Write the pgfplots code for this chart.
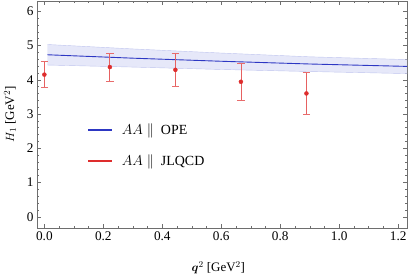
\documentclass[border=0pt]{standalone}
\usepackage{amsmath}
\usepackage{pgfplots}
\pgfplotsset{compat=1.18}
\usepackage{fontspec}
\setmainfont{Liberation Serif}
\usepgfplotslibrary{fillbetween}
\definecolor{opeblue}{RGB}{45,55,195}
\definecolor{bandfill}{RGB}{226,228,248}
\definecolor{bandedge}{RGB}{190,196,238}
\definecolor{jlred}{RGB}{222,45,45}
\definecolor{framegray}{RGB}{110,110,110}
\begin{document}
\begin{tikzpicture}
\begin{axis}[
  at={(0,0)}, anchor=south west,
  scale only axis, width=370bp, height=227bp,
  xmin=-0.025, xmax=1.23, ymin=-0.33, ymax=6.3,
  xtick={0,0.2,...,1.2}, ytick={0,1,...,6},
  xticklabels={0.0,0.2,0.4,0.6,0.8,1.0,1.2},
  minor x tick num=3, minor y tick num=4,
  tick align=inside,
  major tick length=4pt, minor tick length=2pt,
  axis line style={framegray},
  every tick/.style={framegray},
  /pgf/number format/assume math mode=true,
  tick label style={font=\fontsize{13.3}{15}\selectfont},
  xlabel={$\boldsymbol{q}^2$ [GeV$^2$]},
  ylabel={$H_1$ [GeV$^2$]},
  xlabel style={at={(axis description cs:0.49,0)}, yshift=-40bp, anchor=center},
  ylabel style={at={(axis description cs:-0.073,0.5)}, anchor=center},
  label style={font=\fontsize{13}{15}\selectfont},
  legend style={draw=none, fill=none, at={(0.128,0.477)}, anchor=north west, row sep=15pt, font=\fontsize{14}{16}\selectfont},
  legend cell align=left,
  legend image code/.code={\draw[#1, line width=1.6pt] (0bp,0bp) -- (24bp,0bp); \path (31bp,0bp);},
]
\addplot[name path=up, bandedge, forget plot] coordinates {
 (0.01,5.03) (0.3,4.9) (0.6,4.78) (0.9,4.67) (1.23,4.59)};
\addplot[name path=lo, bandedge, forget plot] coordinates {
 (0.01,4.43) (0.3,4.37) (0.6,4.3) (0.9,4.24) (1.23,4.18)};
\addplot[bandfill, fill opacity=0.85, forget plot] fill between[of=up and lo];
\addplot[opeblue, line width=0.9pt] coordinates {
 (0.01,4.73) (0.3,4.63) (0.6,4.54) (0.9,4.46) (1.23,4.39)};
\addlegendentry{$AA\parallel$\ \ OPE}
\addplot[jlred, only marks, mark=*, mark size=2pt, forget plot,
  error bars/.cd, y dir=both, y explicit,
  error bar style={jlred!75, line width=0.8pt},
  error mark options={rotate=90, mark size=3.8pt, jlred!70, line width=0.8pt}]
 coordinates {
 (0,4.15) +- (0,0.385)
 (0.2222,4.37) +- (0,0.41)
 (0.4444,4.29) +- (0,0.475)
 (0.6667,3.94) +- (0,0.55)
 (0.8889,3.60) +- (0,0.605)
};
\addlegendimage{jlred}
\addlegendentry{$AA\parallel$\ \ JLQCD}
\end{axis}
\pgfresetboundingbox
\path[use as bounding box] (-37bp,-47bp) rectangle (372bp,228bp);
\end{tikzpicture}
\end{document}
